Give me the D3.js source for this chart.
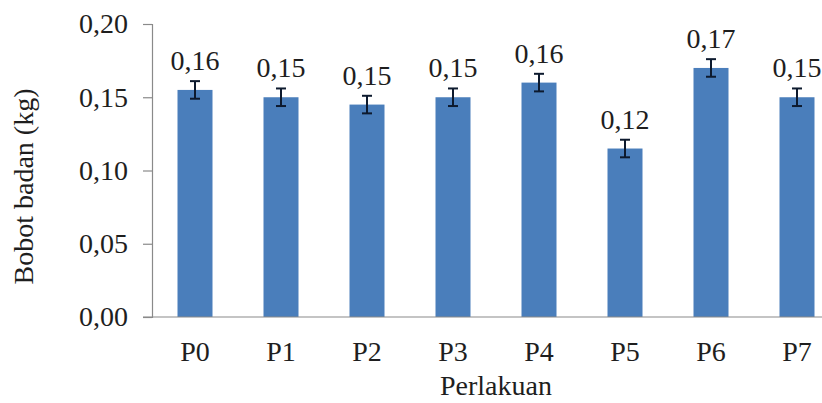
<!DOCTYPE html>
<html>
<head>
<meta charset="utf-8">
<script src="https://cdn.jsdelivr.net/npm/d3@7/dist/d3.min.js"></script>
<style>
  html, body { margin: 0; padding: 0; background: #fff; }
  svg { display: block; }
</style>
</head>
<body>
<svg id="chart" width="822" height="403"></svg>
<script>
const categories = ["P0", "P1", "P2", "P3", "P4", "P5", "P6", "P7"];
const values = [0.155, 0.150, 0.145, 0.150, 0.160, 0.115, 0.170, 0.150];
const errors = [0.006, 0.006, 0.006, 0.006, 0.006, 0.006, 0.006, 0.006];
const valueLabels = ["0,16", "0,15", "0,15", "0,15", "0,16", "0,12", "0,17", "0,15"];
const yTicks = [0, 0.05, 0.10, 0.15, 0.20];
const yTitle = "Bobot badan (kg)";
const xTitle = "Perlakuan";

(function () {
const svg = d3.select("#chart");
const mLeft = 152, mRight = 840, mTop = 24, mBottom = 317;
const fontSize = 28;
const FONT = "'Liberation Serif', 'Times New Roman', Tinos, 'DejaVu Serif', serif";
const txt = sel => sel.style("font-family", FONT).style("font-size", fontSize + "px").style("fill", "#1e1e1e");

const x = d3.scaleBand().domain(categories).range([mLeft, mRight])
  .paddingInner(0.593).paddingOuter(0.2965);
const y = d3.scaleLinear().domain([0, 0.2]).range([mBottom, mTop]);

const fmt = v => d3.format(".2f")(v).replace(".", ",");

// Y axis
const yAxis = svg.append("g").attr("transform", `translate(${mLeft},0)`)
  .call(d3.axisLeft(y).tickValues(yTicks).tickSize(9).tickPadding(15).tickFormat(fmt));
yAxis.attr("font-family", null);
yAxis.select(".domain").attr("stroke", "#8a8a8a").attr("stroke-width", 1.2);
yAxis.selectAll(".tick line").attr("stroke", "#8a8a8a").attr("stroke-width", 1.2);
yAxis.selectAll(".tick text").call(txt);

// Bars
const data = categories.map((c, i) => ({ c, v: values[i], e: errors[i], l: valueLabels[i] }));
svg.append("g").selectAll("rect").data(data).join("rect")
  .attr("x", d => x(d.c))
  .attr("y", d => y(d.v))
  .attr("width", x.bandwidth())
  .attr("height", d => y(0) - y(d.v))
  .attr("fill", "#4A7EBB");

// X axis
const xAxis = svg.append("g").attr("transform", `translate(0,${mBottom})`)
  .call(d3.axisBottom(x).tickSize(0).tickPadding(24));
xAxis.attr("font-family", null);
xAxis.select(".domain").remove();
xAxis.selectAll(".tick text").call(txt);
svg.append("line").attr("x1", mLeft - 9).attr("x2", 822).attr("y1", mBottom).attr("y2", mBottom)
  .attr("stroke", "#8a8a8a").attr("stroke-width", 1.2);

// Error bars
const eg = svg.append("g").attr("stroke", "#0d1a2e").attr("stroke-width", 2);
const cap = 5;
data.forEach(d => {
  const cx = x(d.c) + x.bandwidth() / 2;
  eg.append("line").attr("x1", cx).attr("x2", cx).attr("y1", y(d.v + d.e)).attr("y2", y(d.v - d.e));
  eg.append("line").attr("x1", cx - cap).attr("x2", cx + cap).attr("y1", y(d.v + d.e)).attr("y2", y(d.v + d.e));
  eg.append("line").attr("x1", cx - cap).attr("x2", cx + cap).attr("y1", y(d.v - d.e)).attr("y2", y(d.v - d.e));
});

// Value labels
svg.append("g").selectAll("text").data(data).join("text")
  .attr("x", d => x(d.c) + x.bandwidth() / 2)
  .attr("y", d => y(d.v) - 20)
  .attr("text-anchor", "middle")
  .call(txt)
  .text(d => d.l);

// Axis titles
svg.append("text")
  .attr("transform", `translate(33,${(mTop + mBottom) / 2 + 16}) rotate(-90)`)
  .attr("text-anchor", "middle")
  .call(txt)
  .text(yTitle);

svg.append("text")
  .attr("x", (mLeft + mRight) / 2)
  .attr("y", 395)
  .attr("text-anchor", "middle")
  .call(txt)
  .text(xTitle);
})();
</script>
</body>
</html>
